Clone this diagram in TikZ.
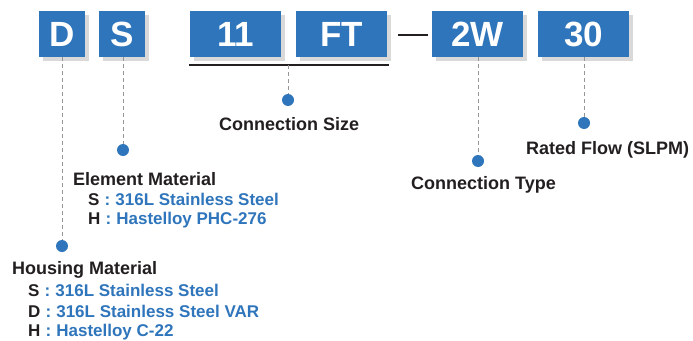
\documentclass[tikz,border=0pt]{standalone}
\usepackage{fontspec}
\setmainfont{Liberation Sans}
\definecolor{boxblue}{RGB}{46,117,187}
\definecolor{txtblue}{RGB}{46,117,187}
\definecolor{shadowgray}{RGB}{217,217,217}
\definecolor{dashgray}{RGB}{150,150,150}
\definecolor{darktxt}{RGB}{35,31,32}
\tikzset{
  codebox/.style={fill=boxblue, text=white, minimum height=46pt, inner sep=0pt,
    font=\fontsize{35}{35}\selectfont\bfseries,
    preaction={fill=shadowgray, transform canvas={xshift=3.5pt,yshift=-4pt}}},
  smallbox/.style={codebox, minimum width=46pt},
  widebox/.style={codebox, minimum width=91pt},
  leader/.style={dashgray, dashed, dash pattern=on 4pt off 3pt, line width=0.9pt},
  dotmark/.style={circle, fill=boxblue, inner sep=0pt, minimum size=12pt},
  title/.style={text=darktxt, font=\fontsize{18}{20}\selectfont\bfseries, inner sep=0pt, anchor=west},
  item/.style={font=\fontsize{17}{19}\selectfont\bfseries, inner sep=0pt, anchor=west}
}
\newcommand{\opt}[2]{\textcolor{darktxt}{#1}\textcolor{txtblue}{\hspace{0.3em}:\hspace{0.3em}#2}}
\begin{document}
\begin{tikzpicture}[x=1pt,y=-1pt]
\useasboundingbox (0,0) rectangle (693,340);
% boxes
\node[smallbox] (bD) at (62,34) {D};
\node[smallbox] (bS) at (122,34) {S};
\node[widebox] (b11) at (235.5,34) {11};
\node[widebox] (bFT) at (341.5,34) {FT};
\node[widebox] (b2W) at (477.5,34) {2W};
\node[widebox] (b30) at (583.5,34) {30};
% dash between FT and 2W
\coordinate (dashL) at (398,35);
\coordinate (dashR) at (428,35);
\draw[darktxt, line width=2.4pt] (dashL) -- (dashR);
% underline
\coordinate (ulL) at (189,65);
\coordinate (ulR) at (389,65);
\coordinate (ulM) at (288,65);
\draw[darktxt, line width=2pt] (ulL) -- (ulR);
% dots
\node[dotmark] (dD) at (62,246) {};
\node[dotmark] (dS) at (123,150) {};
\node[dotmark] (dCS) at (288,100) {};
\node[dotmark] (d2W) at (478,161) {};
\node[dotmark] (d30) at (584,123) {};
% leaders
\draw[leader] (bD.south) -- (dD.north);
\draw[leader] (bS.south -| dS) -- (dS.north);
\draw[leader] (ulM) -- (dCS.north);
\draw[leader] (b2W.south -| d2W) -- (d2W.north);
\draw[leader] (b30.south -| d30) -- (d30.north);
% labels
\node[title] (tCS) at (219,124.5) {Connection Size};
\node[title] (tCT) at (411,184.5) {Connection Type};
\node[title] (tRF) at (526,149.5) {Rated Flow (SLPM)};
\node[title] (tEM) at (73,179) {Element Material};
\node[item] (eS) at (88,199.5) {\opt{S}{316L Stainless Steel}};
\node[item] (eH) at (88,220.5) {\opt{H}{Hastelloy PHC-276}};
\node[title] (tHM) at (12,269.5) {Housing Material};
\node[item] (hS) at (28,290.5) {\opt{S}{316L Stainless Steel}};
\node[item] (hD) at (28,311.5) {\opt{D}{316L Stainless Steel VAR}};
\node[item] (hH) at (28,332) {\opt{H}{Hastelloy C-22}};
\end{tikzpicture}
\end{document}
